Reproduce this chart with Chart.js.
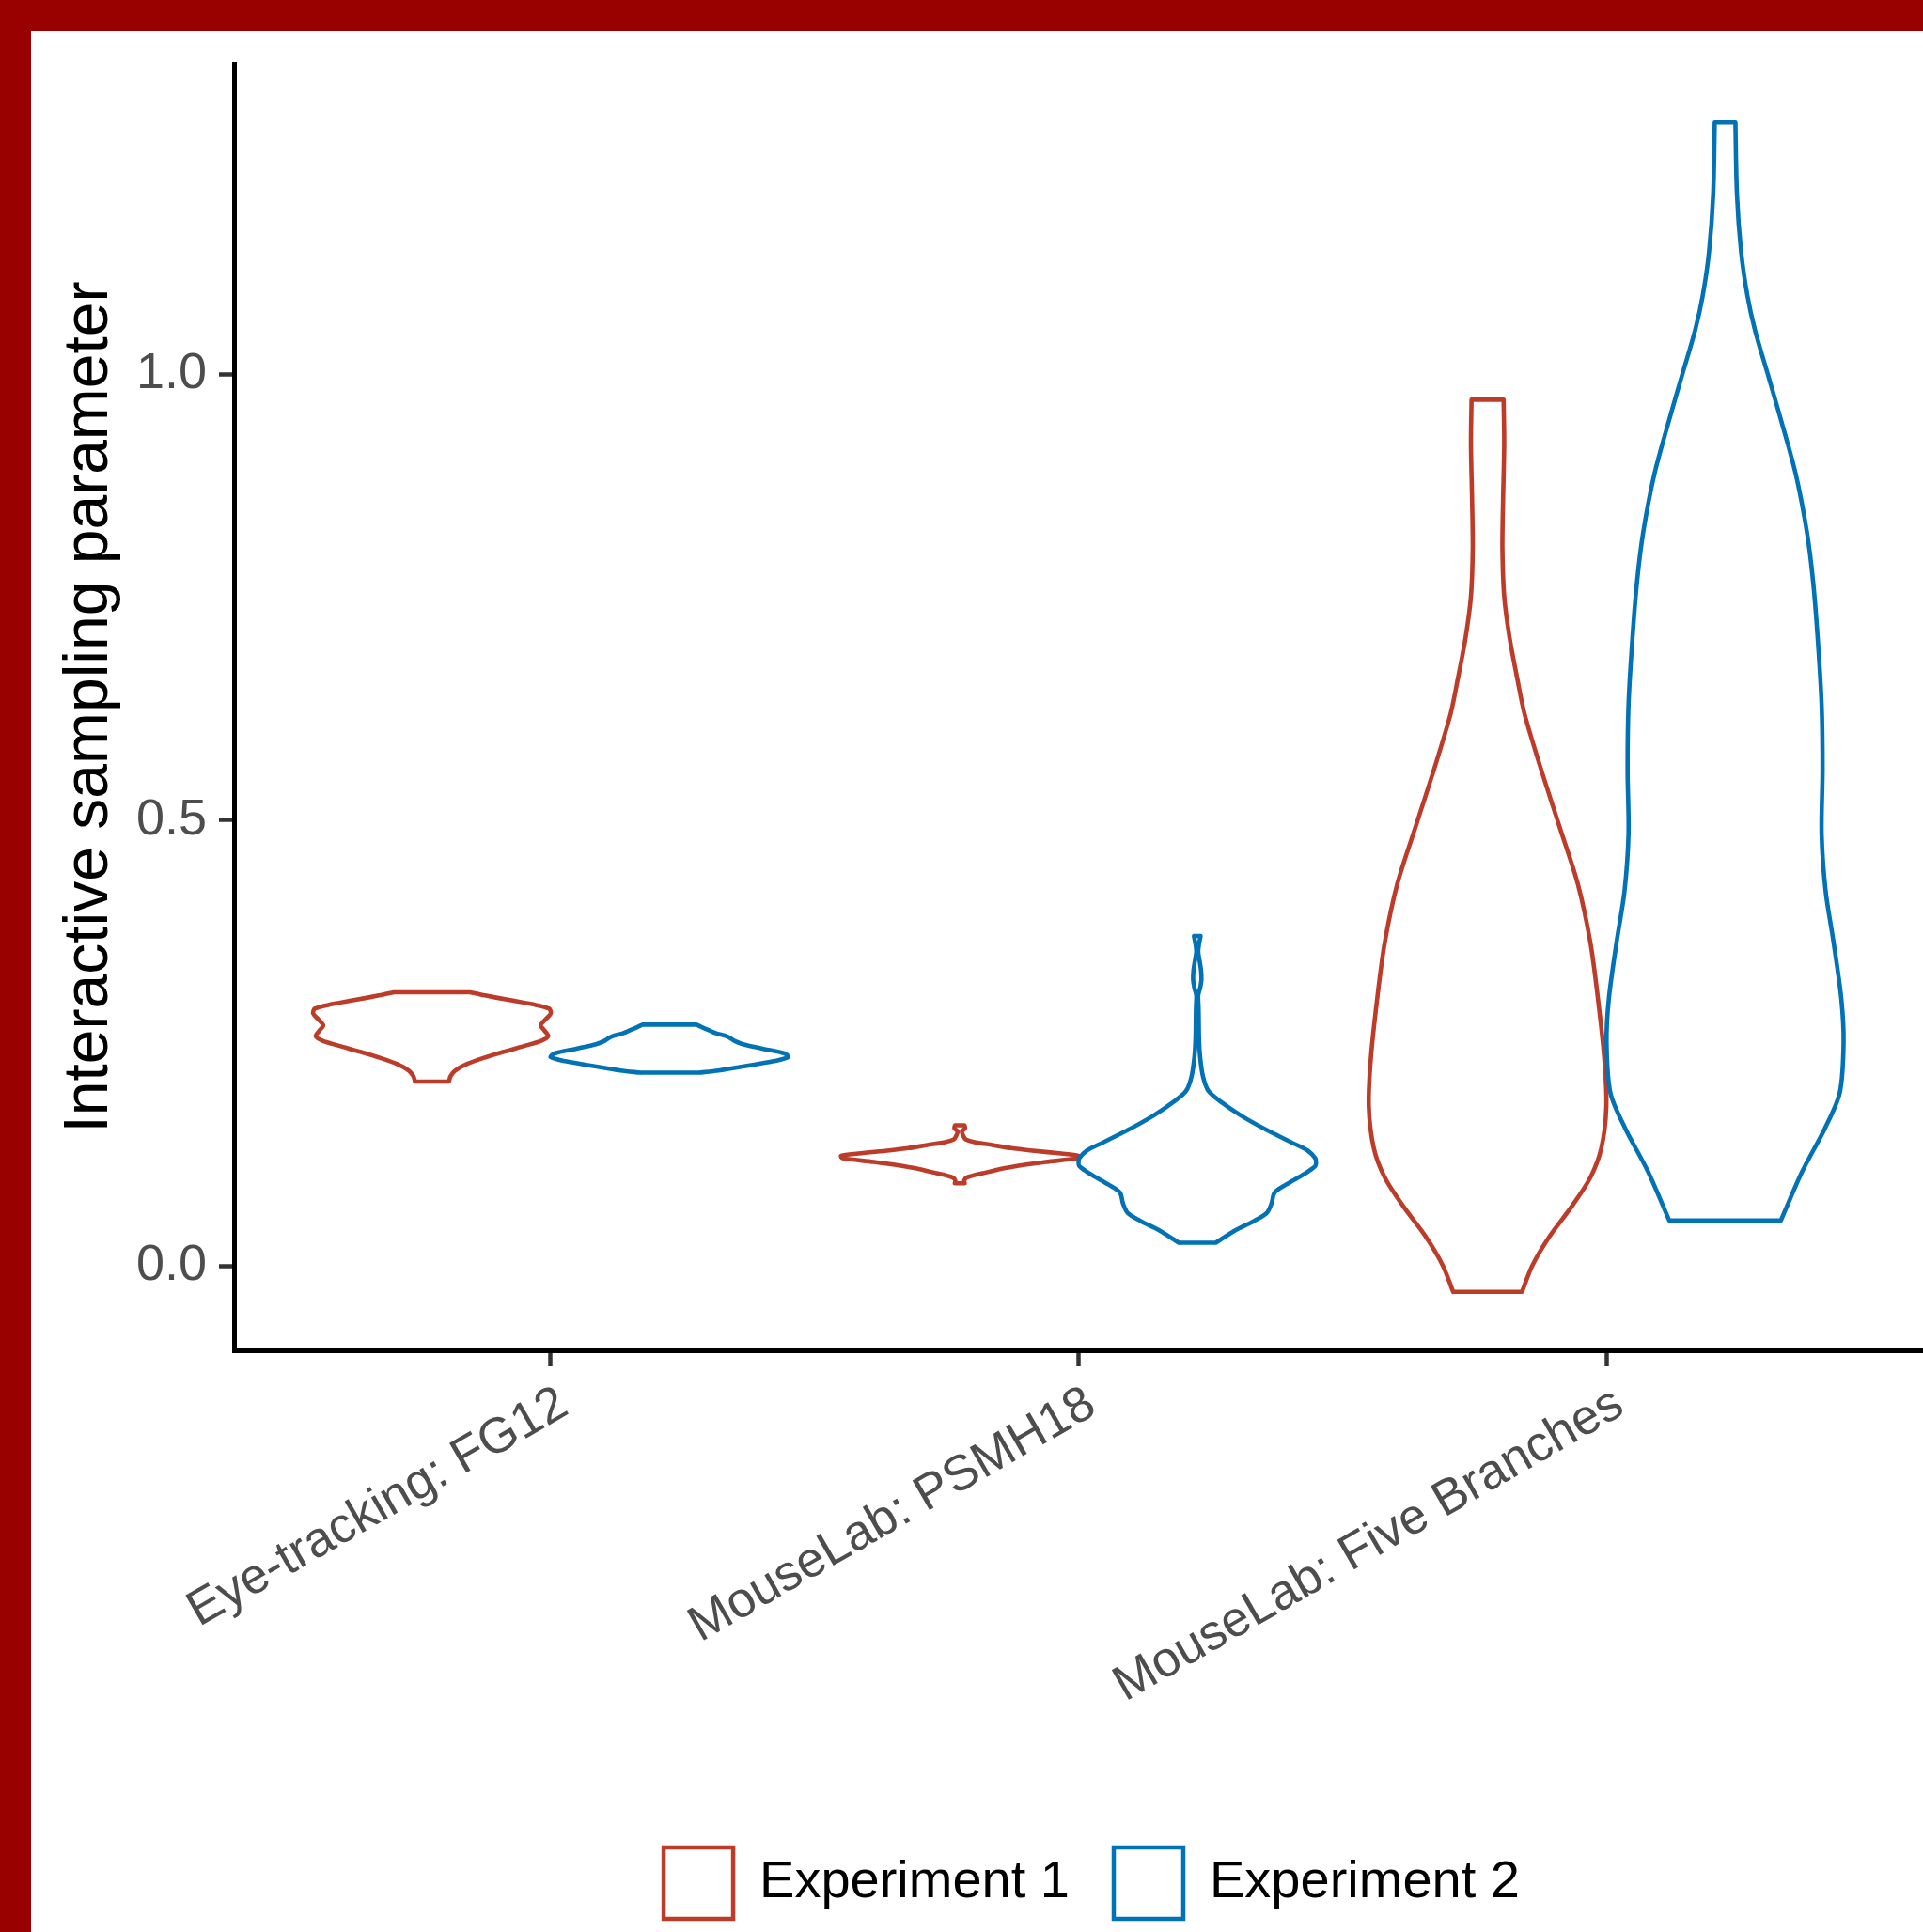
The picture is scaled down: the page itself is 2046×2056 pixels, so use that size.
<!DOCTYPE html>
<html>
<head>
<meta charset="utf-8">
<title>Interactive sampling parameter by task</title>
<script src="https://cdn.jsdelivr.net/npm/chart.js@4.4.1/dist/chart.umd.min.js"></script>
<style>
  html, body { margin: 0; padding: 0; background: #ffffff; }
  #frame {
    width: 2013px;
    height: 2023px;
    border-top: 33px solid #990000;
    border-left: 33px solid #990000;
    background: #ffffff;
  }
  canvas { display: block; }
</style>
</head>
<body>
<div id="frame"><canvas id="chart" width="2013" height="2023"></canvas></div>
<script>
// Tasks on the x axis and the two experiments drawn side by side at each task
const categories = ['Eye-tracking: FG12', 'MouseLab: PSMH18', 'MouseLab: Five Branches'];
const experiments = ['Experiment 1', 'Experiment 2'];
const yTicks = [0, 0.5, 1.0];

// Violin profiles: parameter levels (bottom to top) and the density at each level,
// scaled so that the widest point of every violin is 1.
const fg12Exp1Level   = [0.2068, 0.2128, 0.2191, 0.2261, 0.2332, 0.2402, 0.2472, 0.2525, 0.2577, 0.2641, 0.2700, 0.2770, 0.2830, 0.2886, 0.2936, 0.2981, 0.3034, 0.3069];
const fg12Exp1Density = [0.143, 0.156, 0.195, 0.288, 0.433, 0.604, 0.789, 0.921, 0.979, 0.947, 0.916, 0.960, 1.000, 0.987, 0.842, 0.657, 0.446, 0.322];

const fg12Exp2Level   = [0.2167, 0.2191, 0.2244, 0.2296, 0.2342, 0.2384, 0.2437, 0.2490, 0.2525, 0.2570, 0.2612, 0.2665, 0.2707];
const fg12Exp2Density = [0.244, 0.414, 0.652, 0.876, 1.000, 0.968, 0.784, 0.612, 0.546, 0.493, 0.388, 0.295, 0.227];

const psmh18Exp1Level   = [0.0927, 0.0956, 0.0991, 0.1040, 0.1103, 0.1166, 0.1208, 0.1236, 0.1261, 0.1296, 0.1321, 0.1356, 0.1391, 0.1419, 0.1454, 0.1507, 0.1545, 0.1577];
const psmh18Exp1Density = [0.042, 0.037, 0.058, 0.195, 0.406, 0.723, 0.987, 1.000, 0.855, 0.591, 0.433, 0.275, 0.116, 0.050, 0.032, 0.018, 0.045, 0.040];

const psmh18Exp2Level   = [0.0260, 0.0400, 0.0506, 0.0593, 0.0699, 0.0822, 0.0909, 0.1032, 0.1120, 0.1166, 0.1208, 0.1296, 0.1383, 0.1524, 0.1682, 0.1840, 0.1963, 0.2121, 0.2332, 0.2542, 0.2823, 0.2928, 0.3034, 0.3122, 0.3209, 0.3315, 0.3420, 0.3525, 0.3613, 0.3701];
const psmh18Exp2Density = [0.156, 0.321, 0.480, 0.585, 0.625, 0.651, 0.743, 0.902, 0.994, 1.000, 0.994, 0.928, 0.796, 0.585, 0.374, 0.200, 0.094, 0.049, 0.025, 0.015, 0.012, 0.010, 0.008, 0.025, 0.035, 0.032, 0.020, 0.008, 0.015, 0.028];

const fiveBranchesExp1Level   = [-0.0291, 0.0005, 0.0334, 0.0664, 0.0993, 0.1322, 0.1783, 0.2310, 0.2968, 0.3626, 0.4285, 0.4943, 0.5602, 0.6194, 0.6589, 0.7050, 0.7511, 0.8038, 0.8564, 0.9223, 0.9716];
const fiveBranchesExp1Density = [0.290, 0.377, 0.523, 0.707, 0.866, 0.958, 1.000, 0.984, 0.932, 0.866, 0.760, 0.602, 0.443, 0.311, 0.250, 0.185, 0.140, 0.125, 0.130, 0.140, 0.135];

const fiveBranchesExp2Level   = [0.0509, 0.1058, 0.1541, 0.1945, 0.2508, 0.2992, 0.3637, 0.4201, 0.4846, 0.5571, 0.6297, 0.7023, 0.7668, 0.8232, 0.8877, 0.9522, 1.0005, 1.0490, 1.0892, 1.1376, 1.2022, 1.2827];
const fiveBranchesExp2Density = [0.470, 0.649, 0.840, 0.966, 0.998, 0.979, 0.913, 0.847, 0.813, 0.821, 0.813, 0.781, 0.742, 0.689, 0.596, 0.464, 0.359, 0.253, 0.187, 0.135, 0.100, 0.087];

const violins = [
  { task: 0, exp: 0, level: fg12Exp1Level,         density: fg12Exp1Density },
  { task: 0, exp: 1, level: fg12Exp2Level,         density: fg12Exp2Density },
  { task: 1, exp: 0, level: psmh18Exp1Level,       density: psmh18Exp1Density },
  { task: 1, exp: 1, level: psmh18Exp2Level,       density: psmh18Exp2Density },
  { task: 2, exp: 0, level: fiveBranchesExp1Level, density: fiveBranchesExp1Density },
  { task: 2, exp: 1, level: fiveBranchesExp2Level, density: fiveBranchesExp2Density }
];

const colors = ['#BC3C29', '#0072B5'];
const FONT = "'Liberation Sans', Arial, Helvetica, sans-serif";

// Dodge: each task slot is split in two, each violin at most half a slot wide
const DODGE = 0.9;
const HALF = DODGE / 4;

// Closed outline: left side upward, flat top, right side downward, flat bottom.
// Corner vertices are repeated so the smoothed path keeps square corners.
function outline(v) {
  const center = (v.task + 1) + (v.exp === 0 ? -HALF : HALF);
  const left = v.level.map((y, i) => ({ x: center - v.density[i] * HALF, y }));
  const right = v.level.map((y, i) => ({ x: center + v.density[i] * HALF, y })).reverse();
  const n = left.length;
  return [...left, left[n - 1], right[0], ...right, right[n - 1], left[0]];
}

// y range with 5% padding around all values
const allLevels = violins.flatMap(v => v.level);
const yLo = Math.min(...allLevels), yHi = Math.max(...allLevels);
const yPad = (yHi - yLo) * 0.05;

// Later groups are drawn on top, so list them in reverse
const datasets = violins.slice().reverse().map(v => ({
  label: experiments[v.exp],
  data: outline(v),
  showLine: true,
  fill: false,
  borderColor: colors[v.exp],
  backgroundColor: '#ffffff',
  borderWidth: 4.6,
  borderJoinStyle: 'round',
  borderCapStyle: 'round',
  tension: 0.3,
  pointRadius: 0,
  pointHoverRadius: 0
}));

// Centre the legend row under the plotting panel, nudged slightly right
const legendNudge = {
  id: 'legendNudge',
  afterLayout(chart) {
    const lg = chart.legend;
    if (lg) { lg.left += 14; lg.right += 14; }
  }
};

new Chart(document.getElementById('chart'), {
  type: 'scatter',
  data: { datasets },
  plugins: [legendNudge],
  options: {
    responsive: false,
    animation: false,
    devicePixelRatio: 1,
    layout: { padding: { left: 0, top: 35, right: 0, bottom: 4 } },
    plugins: {
      tooltip: { enabled: false },
      legend: {
        position: 'bottom',
        fullSize: false,
        labels: {
          boxWidth: 74,
          boxHeight: 76,
          padding: 47,
          color: '#000000',
          font: { family: FONT, size: 56 },
          generateLabels: () => experiments.map((name, i) => ({
            text: name,
            fillStyle: '#ffffff',
            strokeStyle: colors[i],
            lineWidth: 4.5,
            hidden: false,
            datasetIndex: i
          }))
        }
      }
    },
    scales: {
      x: {
        type: 'linear',
        min: 0.4,
        max: 3.6,
        afterBuildTicks: s => { s.ticks = categories.map((c, i) => ({ value: i + 1 })); },
        afterFit: s => { s.height = 482; s.paddingLeft = 0; s.paddingRight = 0; },
        ticks: {
          autoSkip: false,
          minRotation: 30,
          maxRotation: 30,
          padding: 9,
          labelOffset: 14,
          color: '#4D4D4D',
          font: { family: FONT, size: 53 },
          callback: v => categories[Math.round(v) - 1]
        },
        grid: { display: true, drawOnChartArea: false, tickLength: 17, tickWidth: 4.5, tickColor: '#333333' },
        border: { display: true, color: '#000000', width: 5 }
      },
      y: {
        type: 'linear',
        min: yLo - yPad,
        max: yHi + yPad,
        afterBuildTicks: s => { s.ticks = yTicks.map(v => ({ value: v })); },
        afterFit: s => { s.width = 216; s.paddingTop = 0; s.paddingBottom = 0; },
        ticks: {
          padding: 13,
          color: '#4D4D4D',
          font: { family: FONT, size: 54 },
          callback: v => v.toFixed(1)
        },
        grid: { display: true, drawOnChartArea: false, tickLength: 16, tickWidth: 4.5, tickColor: '#333333' },
        border: { display: true, color: '#000000', width: 5 },
        title: {
          display: true,
          text: 'Interactive sampling parameter',
          color: '#000000',
          font: { family: FONT, size: 66 },
          padding: { top: 23, bottom: 0 }
        }
      }
    }
  }
});
</script>
</body>
</html>
